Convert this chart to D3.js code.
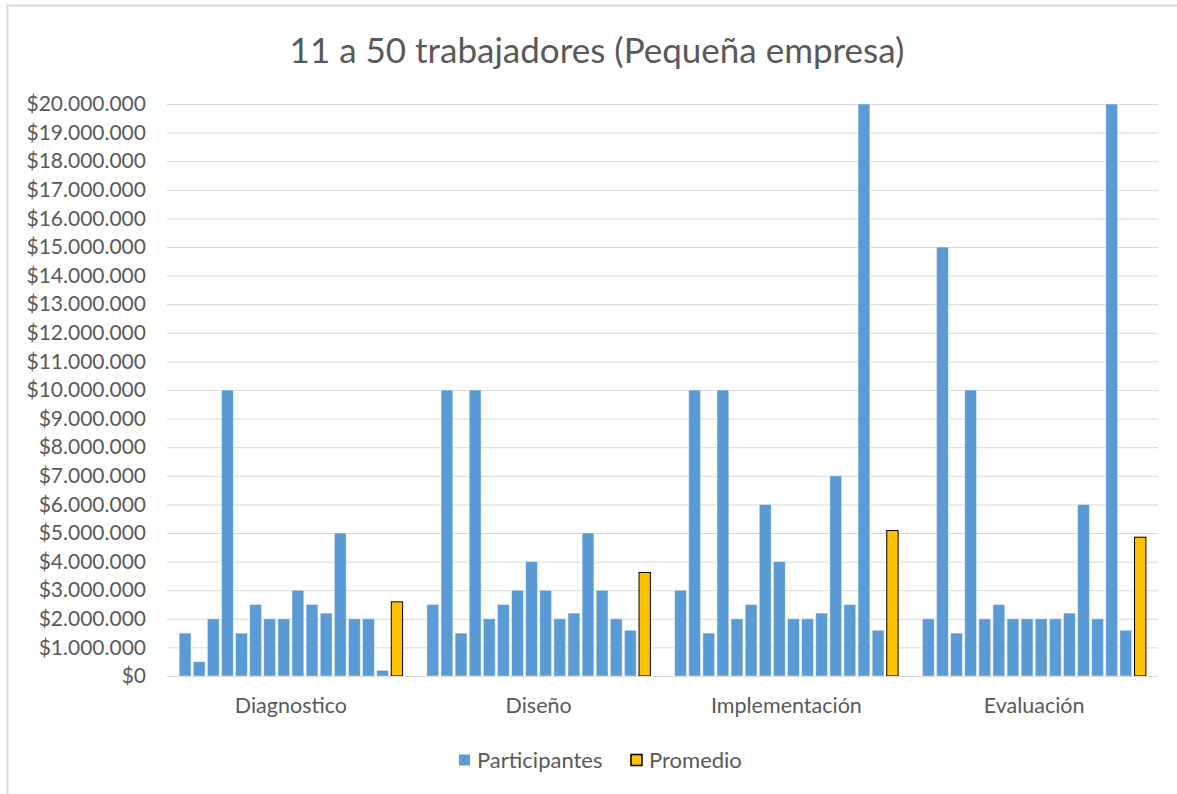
<!DOCTYPE html>
<html>
<head>
<meta charset="utf-8">
<script src="https://cdn.jsdelivr.net/npm/d3@7"></script>
<style>
  html, body { margin: 0; padding: 0; background: #fff; }
  svg { display: block; font-family: Lato, "Open Sans", sans-serif; }
</style>
</head>
<body>
<svg id="chart" width="1177" height="794"></svg>
<script>
// Etapas del proceso (categorías del eje X)
const categories = ["Diagnostico", "Diseño", "Implementación", "Evaluación"];

// Costos reportados por cada participante en cada etapa (15 participantes)
const diagnostico    = [1500000, 500000, 2000000, 10000000, 1500000, 2500000, 2000000, 2000000, 3000000, 2500000, 2200000, 5000000, 2000000, 2000000, 200000];
const diseno         = [2500000, 10000000, 1500000, 10000000, 2000000, 2500000, 3000000, 4000000, 3000000, 2000000, 2200000, 5000000, 3000000, 2000000, 1600000];
const implementacion = [3000000, 10000000, 1500000, 10000000, 2000000, 2500000, 6000000, 4000000, 2000000, 2000000, 2200000, 7000000, 2500000, 20000000, 1600000];
const evaluacion     = [2000000, 15000000, 1500000, 10000000, 2000000, 2500000, 2000000, 2000000, 2000000, 2000000, 2200000, 6000000, 2000000, 20000000, 1600000];

// Promedio por etapa
const promedio = [2593333, 3620000, 5086667, 4853333];

// Marcas del eje Y
const yTicks = [0, 1000000, 2000000, 3000000, 4000000, 5000000, 6000000, 7000000, 8000000, 9000000, 10000000,
                11000000, 12000000, 13000000, 14000000, 15000000, 16000000, 17000000, 18000000, 19000000, 20000000];

const title = "11 a 50 trabajadores (Pequeña empresa)";
const seriesNames = ["Participantes", "Promedio"];

const participantes = [diagnostico, diseno, implementacion, evaluacion];

const COLOR_PART = "#5B9BD5";
const COLOR_PROM = "#FFC000";
const TEXT = "#595959";
const GRID = "#D9D9D9";

const svg = d3.select("#chart");

// Marco del gráfico
svg.append("path")
  .attr("d", "M7.5,794 L7.5,5.5 L1177,5.5")
  .attr("fill", "none")
  .attr("stroke", GRID)
  .attr("stroke-width", 2);

const plot = { left: 167, right: 1158, top: 104, bottom: 676 };

const y = d3.scaleLinear()
  .domain([0, 20000000])
  .range([plot.bottom, plot.top]);

const x0 = d3.scaleBand()
  .domain(categories)
  .range([plot.left, plot.right])
  .padding(0);

const slots = d3.range(16);
const bw = x0.bandwidth();
const x1 = d3.scaleBand()
  .domain(slots)
  .range([bw * 0.049, bw * 0.951])
  .paddingInner(0.16)
  .paddingOuter(0);

// Formato de moneda con separador de miles "."
const fmt = v => "$" + d3.format(",")(v).replace(/,/g, ".");

// Eje Y con líneas de cuadrícula
const yAxis = d3.axisLeft(y)
  .tickValues(yTicks)
  .tickSize(-(plot.right - plot.left))
  .tickPadding(21)
  .tickFormat(fmt);

const gy = svg.append("g")
  .attr("transform", `translate(${plot.left},0)`)
  .call(yAxis);
gy.select(".domain").remove();
gy.selectAll(".tick line").attr("stroke", GRID).attr("stroke-width", 1);
gy.selectAll(".tick text")
  .attr("fill", TEXT)
  .style("font-size", "21px")
  .style("font-family", "Lato, sans-serif");

// Barras por etapa
const groups = svg.append("g")
  .selectAll("g")
  .data(categories.map((c, i) => ({ cat: c, vals: participantes[i], avg: promedio[i] })))
  .join("g")
  .attr("transform", d => `translate(${x0(d.cat)},0)`);

groups.selectAll("rect.part")
  .data(d => d.vals.map((v, j) => ({ v, j })))
  .join("rect")
  .attr("class", "part")
  .attr("x", d => x1(d.j))
  .attr("width", x1.bandwidth())
  .attr("y", d => y(d.v))
  .attr("height", d => y(0) - y(d.v))
  .attr("fill", COLOR_PART)
  .attr("stroke", "#ffffff")
  .attr("stroke-opacity", 0.6)
  .attr("stroke-width", 0.75);

groups.append("rect")
  .attr("class", "prom")
  .attr("x", x1(15) + 0.5)
  .attr("width", x1.bandwidth() - 0.5)
  .attr("y", d => y(d.avg))
  .attr("height", d => y(0) - y(d.avg))
  .attr("fill", COLOR_PROM)
  .attr("stroke", "#000000")
  .attr("stroke-width", 1);

// Línea base
svg.append("line")
  .attr("x1", plot.left).attr("x2", plot.right)
  .attr("y1", y(0) + 0.5).attr("y2", y(0) + 0.5)
  .attr("stroke", GRID).attr("stroke-width", 1);

// Eje X (etiquetas de categoría)
const gx = svg.append("g")
  .attr("transform", `translate(0,${plot.bottom})`)
  .call(d3.axisBottom(x0).tickSize(0).tickPadding(22));
gx.select(".domain").remove();
gx.selectAll(".tick text")
  .attr("fill", TEXT)
  .style("font-size", "21.5px")
  .style("font-family", "Lato, sans-serif");

// Título
svg.append("text")
  .attr("x", 597)
  .attr("y", 63)
  .attr("text-anchor", "middle")
  .attr("fill", TEXT)
  .style("font-size", "35px")
  .style("font-family", "Lato, sans-serif")
  .text(title);

// Leyenda
const legend = svg.append("g").attr("transform", "translate(459,760)");
const legendItems = [
  { name: seriesNames[0], x: 0, fill: COLOR_PART, stroke: "none" },
  { name: seriesNames[1], x: 172, fill: COLOR_PROM, stroke: "#000" }
];
const li = legend.selectAll("g").data(legendItems).join("g")
  .attr("transform", d => `translate(${d.x},0)`);
li.append("rect")
  .attr("x", 0).attr("y", -5.5)
  .attr("width", 11).attr("height", 11)
  .attr("fill", d => d.fill)
  .attr("stroke", d => d.stroke)
  .attr("stroke-width", 1.5);
li.append("text")
  .attr("x", 18).attr("y", 0)
  .attr("dy", "0.35em")
  .attr("fill", TEXT)
  .style("font-size", "22px")
  .style("font-family", "Lato, sans-serif")
  .text(d => d.name);
</script>
</body>
</html>
